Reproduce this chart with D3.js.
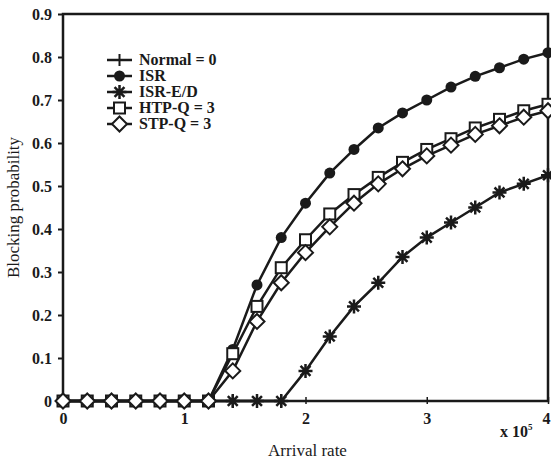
<!DOCTYPE html>
<html>
<head>
<meta charset="utf-8">
<script src="https://cdn.jsdelivr.net/npm/d3@7"></script>
<style>
	body { margin: 0; background: #fff; }
	text { font-family: "Liberation Serif", "Times New Roman", serif; fill: #1a1a1a; }
</style>
</head>
<body>
<div class="chart"></div>
<script>
// arrival rate (x 10^5)
var arrival = [0, 0.2, 0.4, 0.6, 0.8, 1.0, 1.2, 1.4, 1.6, 1.8, 2.0, 2.2, 2.4, 2.6, 2.8, 3.0, 3.2, 3.4, 3.6, 3.8, 4.0];

var normal = [0, 0, 0, 0, 0, 0, 0, 0, 0, 0];
var isr = [0, 0, 0, 0, 0, 0, 0, 0.12, 0.27, 0.38, 0.46, 0.53, 0.585, 0.635, 0.67, 0.70, 0.73, 0.755, 0.775, 0.795, 0.81];
var isrED = [0, 0, 0, 0, 0, 0, 0, 0, 0, 0, 0.07, 0.15, 0.22, 0.275, 0.335, 0.38, 0.415, 0.45, 0.485, 0.505, 0.525];
var htpQ = [0, 0, 0, 0, 0, 0, 0, 0.11, 0.22, 0.31, 0.375, 0.435, 0.48, 0.52, 0.555, 0.585, 0.61, 0.635, 0.655, 0.675, 0.69];
var stpQ = [0, 0, 0, 0, 0, 0, 0, 0.07, 0.185, 0.275, 0.345, 0.405, 0.46, 0.505, 0.54, 0.57, 0.595, 0.62, 0.64, 0.66, 0.675];

var xTicks = [0, 1, 2, 3, 4];
var yTicks = [0, 0.1, 0.2, 0.3, 0.4, 0.5, 0.6, 0.7, 0.8, 0.9];

var series = [
	{name: 'Normal = 0', values: normal, marker: 'plus'},
	{name: 'ISR', values: isr, marker: 'circle'},
	{name: 'ISR-E/D', values: isrED, marker: 'star'},
	{name: 'HTP-Q = 3', values: htpQ, marker: 'square'},
	{name: 'STP-Q = 3', values: stpQ, marker: 'diamond'}
];

var W = 551, H = 461;
var plotL = 63, plotR = 548, plotT = 14, plotB = 401;
var ink = '#1a1a1a';

var svg = d3.select('.chart').append('svg')
	.attr('width', W)
	.attr('height', H);

var x = d3.scaleLinear().domain([0, 4]).range([plotL, plotR]);
var y = d3.scaleLinear().domain([0, 0.9]).range([plotB, plotT]);

// frame
svg.append('rect')
	.attr('x', plotL).attr('y', plotT)
	.attr('width', plotR - plotL).attr('height', plotB - plotT)
	.attr('fill', 'none').attr('stroke', ink).attr('stroke-width', 2.5);

// y axis
var yAxis = svg.append('g')
	.attr('transform', 'translate(' + plotL + ',0)')
	.call(d3.axisLeft(y).tickValues(yTicks).tickSize(5).tickPadding(6)
		.tickFormat(function(d){ return d === 0 ? '0' : d3.format('.1f')(d); }));
yAxis.select('.domain').remove();
yAxis.selectAll('line').attr('stroke', ink).attr('stroke-width', 2);
yAxis.selectAll('text').attr('font-size', 16).attr('font-weight', 'bold')
	.attr('font-family', '"Liberation Serif", serif').attr('fill', ink);

// x axis
var xAxis = svg.append('g')
	.attr('transform', 'translate(0,' + plotB + ')')
	.call(d3.axisBottom(x).tickValues(xTicks).tickSizeInner(-4).tickSizeOuter(0).tickPadding(12)
		.tickFormat(d3.format('d')));
xAxis.select('.domain').remove();
xAxis.selectAll('line').attr('stroke', ink).attr('stroke-width', 1.5)
	.attr('y1', 3);
xAxis.selectAll('text').attr('font-size', 16).attr('font-weight', 'bold')
	.attr('font-family', '"Liberation Serif", serif').attr('fill', ink);
xAxis.selectAll('.tick').filter(function(d){ return d === 4; }).select('text').attr('dx', -2);

// axis titles
svg.append('text')
	.attr('transform', 'translate(19,' + ((plotT + plotB) / 2) + ') rotate(-90)')
	.attr('text-anchor', 'middle')
	.attr('font-size', 17)
	.text('Blocking probability');

svg.append('text')
	.attr('x', (plotL + plotR) / 2 + 2).attr('y', 456)
	.attr('text-anchor', 'middle')
	.attr('font-size', 17)
	.text('Arrival rate');

var mult = svg.append('text')
	.attr('x', 500).attr('y', 437)
	.attr('font-size', 16).attr('font-weight', 'bold');
mult.append('tspan').text('x 10');
mult.append('tspan').attr('dy', -7).attr('font-size', 9).text('5');

function drawMarker(g, type) {
	if (type == 'circle') {
		g.append('circle').attr('r', 5.5).attr('fill', ink);
	} else if (type == 'square') {
		g.append('rect').attr('x', -5.5).attr('y', -5.5).attr('width', 11).attr('height', 11)
			.attr('fill', '#fff').attr('stroke', ink).attr('stroke-width', 2);
	} else if (type == 'diamond') {
		g.append('path').attr('d', 'M0,-7.5L7.5,0L0,7.5L-7.5,0Z')
			.attr('fill', '#fff').attr('stroke', ink).attr('stroke-width', 2);
	} else if (type == 'star') {
		var r = 7;
		var d = '';
		for (var k = 0; k < 4; k++) {
			var a = k * Math.PI / 4;
			d += 'M' + (-r * Math.cos(a)) + ',' + (-r * Math.sin(a)) + 'L' + (r * Math.cos(a)) + ',' + (r * Math.sin(a));
		}
		g.append('path').attr('d', d).attr('stroke', ink).attr('stroke-width', 2.5);
	} else if (type == 'plus') {
		g.append('path').attr('d', 'M-6,0L6,0M0,-6L0,6').attr('stroke', ink).attr('stroke-width', 2);
	}
}

var line = d3.line()
	.x(function(d){ return x(d[0]); })
	.y(function(d){ return y(d[1]); });

series.forEach(function(s){
	var pts = s.values.map(function(v, i){ return [arrival[i], v]; });
	svg.append('path')
		.datum(pts)
		.attr('d', line)
		.attr('fill', 'none')
		.attr('stroke', ink)
		.attr('stroke-width', 2.5);
	pts.forEach(function(p){
		var g = svg.append('g').attr('transform', 'translate(' + x(p[0]) + ',' + y(p[1]) + ')');
		drawMarker(g, s.marker);
	});
});

// legend
var legY = [60, 76, 92, 108, 124];
series.forEach(function(s, i){
	var lg = svg.append('g').attr('transform', 'translate(107,' + legY[i] + ')');
	lg.append('line').attr('x1', 0).attr('x2', 25)
		.attr('stroke', ink).attr('stroke-width', 2.5);
	drawMarker(lg.append('g').attr('transform', 'translate(12.5,0)'), s.marker);
	lg.append('text').attr('x', 32).attr('y', 5)
		.attr('font-size', 16).attr('font-weight', 'bold')
		.text(s.name);
});
</script>
</body>
</html>
